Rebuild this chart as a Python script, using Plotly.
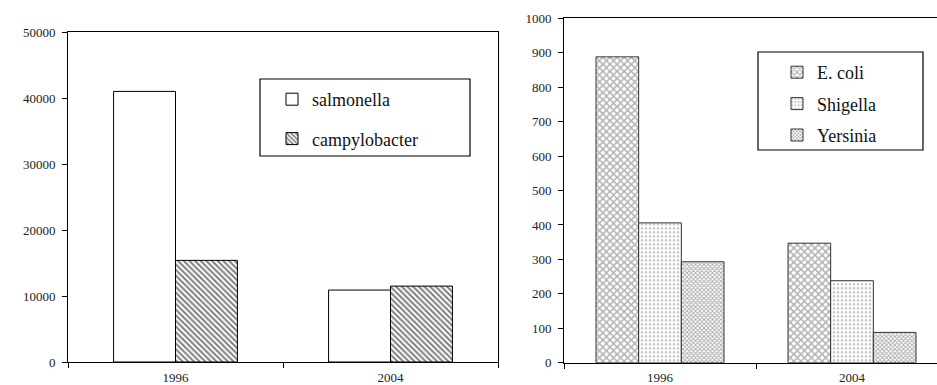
import plotly.graph_objects as go

years = ["1996", "2004"]
salmonella = [41000, 10900]
campylobacter = [15400, 11500]
ecoli = [888, 347]
shigella = [406, 238]
yersinia = [293, 88]

W, H = 937, 385
def px(x):
    return x / W
def py(y):
    return 1 - y / H

FONT = "Liberation Serif"
fig = go.Figure()

# left chart
lw = 0.288
fig.add_bar(x=years, y=salmonella, name="salmonella", xaxis="x", yaxis="y",
            width=lw, offset=-lw, marker=dict(color="white", line=dict(color="black", width=1)),
            legend="legend", legendgroup="a")
fig.add_bar(x=years, y=campylobacter, name="campylobacter", xaxis="x", yaxis="y",
            width=lw, offset=0,
            marker=dict(color="white", line=dict(color="black", width=1),
                        pattern=dict(shape="\\", size=4, solidity=0.5, fgcolor="black", bgcolor="white")),
            legend="legend", legendgroup="b")

# right chart
rw = 0.2222
fig.add_bar(x=years, y=ecoli, name="E. coli", xaxis="x2", yaxis="y2",
            width=rw, offset=-1.5 * rw,
            marker=dict(color="white", line=dict(color="#333", width=1),
                        pattern=dict(shape="x", size=5, solidity=0.5, fgcolor="#666", bgcolor="white")),
            legend="legend2", legendgroup="c")
fig.add_bar(x=years, y=shigella, name="Shigella", xaxis="x2", yaxis="y2",
            width=rw, offset=-0.5 * rw,
            marker=dict(color="white", line=dict(color="#333", width=1),
                        pattern=dict(shape=".", size=4, solidity=0.35, fgcolor="#888", bgcolor="white")),
            legend="legend2", legendgroup="d")
fig.add_bar(x=years, y=yersinia, name="Yersinia", xaxis="x2", yaxis="y2",
            width=rw, offset=0.5 * rw,
            marker=dict(color="white", line=dict(color="#333", width=1),
                        pattern=dict(shape="x", size=3, solidity=0.5, fgcolor="#555", bgcolor="white")),
            legend="legend2", legendgroup="e")

axis_common = dict(showline=True, linecolor="black", linewidth=1, showgrid=False, zeroline=False,
                   ticks="outside", ticklen=5, tickcolor="black", automargin=False,
                   tickfont=dict(family=FONT, size=13, color="#222"))

fig.update_layout(
    width=W, height=H, margin=dict(l=0, r=0, t=0, b=0),
    paper_bgcolor="white", plot_bgcolor="white", barmode="overlay",
    font=dict(family=FONT),
    xaxis=dict(domain=[px(68), px(498)], anchor="y", type="category", range=[-0.5, 1.5],
               tickson="boundaries", mirror=True, ticklabelstandoff=3, **axis_common),
    yaxis=dict(domain=[py(362), py(32)], anchor="x", range=[0, 50000], dtick=10000, tickformat="d",
               mirror=True, ticklabelstandoff=4, **axis_common),
    xaxis2=dict(domain=[px(564), 1.0], anchor="y2", type="category", range=[-0.5, 1.5 - 11 / 192],
                tickson="boundaries", mirror=True, ticklabelstandoff=3, **axis_common),
    yaxis2=dict(domain=[py(362.7), py(18.3)], anchor="x2", range=[0, 1000], dtick=100, tickformat="d",
                mirror=False, ticklabelstandoff=4, **axis_common),
    legend=dict(x=px(272), y=py(81), xanchor="left", yanchor="top", bgcolor="rgba(0,0,0,0)",
                borderwidth=0, font=dict(family=FONT, size=18, color="#111"), tracegroupgap=13,
                traceorder="grouped"),
    legend2=dict(x=px(777), y=py(54), xanchor="left", yanchor="top", bgcolor="rgba(0,0,0,0)",
                 borderwidth=0, font=dict(family=FONT, size=18, color="#111"), tracegroupgap=5,
                 traceorder="grouped"),
    shapes=[
        dict(type="rect", xref="paper", yref="paper", x0=px(260), x1=px(470), y0=py(156), y1=py(79),
             line=dict(color="black", width=1.2), fillcolor="rgba(0,0,0,0)", layer="above"),
        dict(type="rect", xref="paper", yref="paper", x0=px(758), x1=px(923), y0=py(150), y1=py(52),
             line=dict(color="black", width=1.2), fillcolor="rgba(0,0,0,0)", layer="above"),
    ],
)

fig.write_html("out.html")
